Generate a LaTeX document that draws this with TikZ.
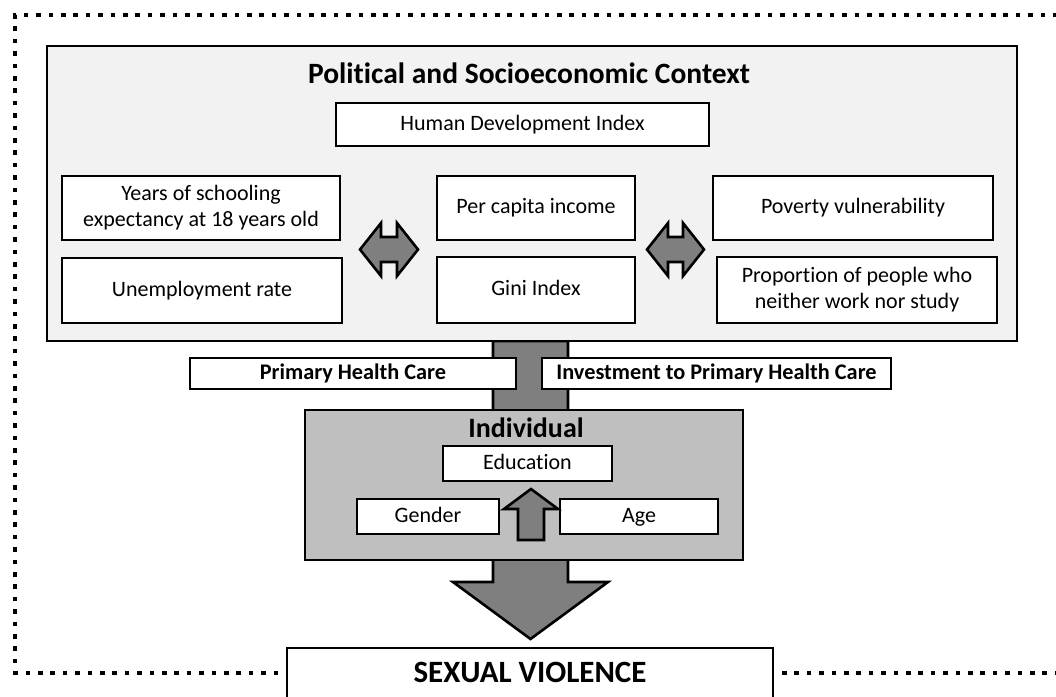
\documentclass[tikz,border=0pt]{standalone}
\usepackage{fontspec}
\setmainfont{Carlito}[Ligatures=NoCommon]
\definecolor{ctxfill}{HTML}{F2F2F2}
\definecolor{indfill}{HTML}{BFBFBF}
\definecolor{arrfill}{HTML}{7F7F7F}
\begin{document}
\begin{tikzpicture}[x=1pt,y=-1pt,
  wbox/.style={draw, line width=2.6pt, fill=white, inner sep=0pt, align=center,
    font=\fontsize{22}{26}\selectfont, execute at begin node={\vphantom{Agd}}},
  bbox/.style={wbox, font=\bfseries\fontsize{22.3}{26}\selectfont},
  head/.style={inner sep=0pt, font=\bfseries\fontsize{28}{32}\selectfont},
  blockarrow/.style={draw, line width=2.6pt, fill=arrfill, line join=miter},
  frame/.style={draw, line width=4.6pt, dash pattern=on 4.6pt off 7.8pt}]
\clip (0,0) rectangle (1056,696);
\fill[white] (0,0) rectangle (1056,696);

% dotted outer frame
\draw[frame] (1070,15) -- (15,15) -- (15,673) -- (1070,673);

% big down arrow (behind boxes)
\draw[blockarrow] (493,341) -- (568,341) -- (568,582) -- (608,582) -- (530.5,639)
  -- (453,582) -- (493,582) -- cycle;

% context box
\node[draw, line width=2.4pt, fill=ctxfill, minimum width=970pt, minimum height=295pt,
  inner sep=0pt] (ctx) at (532,193.5) {};
\node[head, font=\bfseries\fontsize{29.5}{33}\selectfont] (ctxt) at (529,73) {Political and Socioeconomic Context};

\node[wbox, minimum width=373pt, minimum height=43pt] (hdi) at (522.5,124.5) {Human Development Index};
\node[wbox, minimum width=278pt, minimum height=64pt] (yrs) at (201,208) {Years of schooling\\expectancy at 18 years old};
\node[wbox, minimum width=280pt, minimum height=65pt] (unemp) at (202,290.5) {Unemployment rate};
\node[wbox, minimum width=198pt, minimum height=64pt] (pci) at (536,208) {Per capita income};
\node[wbox, minimum width=198pt, minimum height=66pt] (gini) at (536,290) {Gini Index};
\node[wbox, minimum width=280pt, minimum height=64pt] (pov) at (853,208) {Poverty vulnerability};
\node[wbox, minimum width=280pt, minimum height=66pt] (prop) at (857,290) {Proportion of people who\\neither work nor study};

% double arrows
\draw[blockarrow] (360,249.5) -- (381,223) -- (381,237) -- (397,237) -- (397,223) -- (418,249.5)
  -- (397,276) -- (397,262) -- (381,262) -- (381,276) -- cycle;
\draw[blockarrow] (647,249.5) -- (668,223) -- (668,237) -- (683,237) -- (683,223) -- (704,249.5)
  -- (683,276) -- (683,262) -- (668,262) -- (668,276) -- cycle;

% primary health care labels
\node[bbox, minimum width=326pt, minimum height=31pt] (phc) at (353,373.5) {Primary Health Care};
\node[bbox, minimum width=349pt, minimum height=31pt] (inv) at (716.5,373.5) {Investment to Primary Health Care};

% individual box
\node[draw, line width=2.4pt, fill=indfill, minimum width=438pt, minimum height=150pt,
  inner sep=0pt] (ind) at (524,485) {};
\node[head] (indt) at (526,428) {Individual};
\node[wbox, minimum width=169pt, minimum height=35pt] (edu) at (527.5,463.5) {Education};
\node[wbox, minimum width=142pt, minimum height=35pt] (gen) at (428,516.5) {Gender};
\node[wbox, minimum width=158pt, minimum height=35pt] (age) at (639,516.5) {Age};
\draw[blockarrow] (531,489) -- (558,509) -- (544,509) -- (544,540) -- (518,540) -- (518,509)
  -- (504,509) -- cycle;

% sexual violence
\node[draw, line width=2.4pt, fill=white, minimum width=486pt, minimum height=80pt,
  inner sep=0pt] (sv) at (530,688) {};
\node[head, font=\bfseries\fontsize{31}{35}\selectfont] (svt) at (530,672) {SEXUAL VIOLENCE};
\end{tikzpicture}
\end{document}
